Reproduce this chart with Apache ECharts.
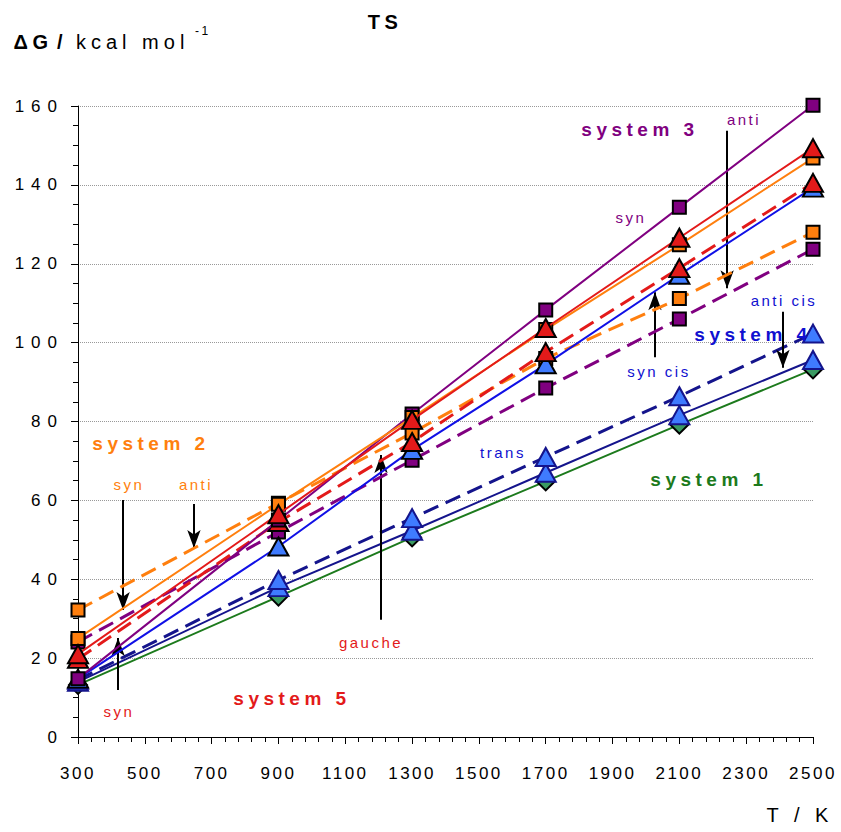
<!DOCTYPE html>
<html>
<head>
<meta charset="utf-8">
<script src="https://cdn.jsdelivr.net/npm/echarts@6/dist/echarts.min.js"></script>
<style>
html,body{margin:0;padding:0;background:#fff;}
#chart{width:841px;height:832px;}
#chart svg text{letter-spacing:2.5px;}
#chart svg text[text-anchor="end"]{letter-spacing:7px;}
#chart svg text[style*="20px"]{letter-spacing:5px;}
#chart svg text[style*="bold"]{letter-spacing:4.5px;}
</style>
</head>
<body>
<div id="chart"></div>
<script>
// Temperatures (K)
const temps = [300, 900, 1300, 1700, 2100, 2500];
// ΔG values (kcal/mol)
const sys1 = [13.2, 35.6, 50.6, 64.8, 79.2, 93.2];            // system 1
const sys4AntiCis = [14.0, 38.0, 52.3, 67.0, 81.6, 95.6];     // system 4 anti cis
const sys4Trans = [14.5, 39.8, 55.5, 71.0, 86.4, 102.3];      // system 4 trans
const sys4SynCis = [14.8, 48.3, 72.8, 94.5, 117.2, 139.3];    // system 4 syn cis
const sys3Anti = [24.1, 52.0, 70.2, 88.5, 106.0, 123.7];      // system 3 anti
const sys2Anti = [32.2, 59.3, 77.1, 96.0, 111.2, 128.0];      // system 2 anti
const sys5Gauche = [19.8, 54.5, 74.8, 97.6, 118.9, 140.5];    // system 5 gauche
const sys3Syn = [14.8, 55.0, 81.9, 108.3, 134.3, 160.2];      // system 3 syn
const sys2Syn = [25.0, 59.0, 81.0, 103.3, 124.8, 146.8];      // system 2 syn
const sys5Syn = [21.0, 56.5, 80.4, 103.7, 126.6, 149.3];      // system 5 syn

const xMajorTicks = [300, 500, 700, 900, 1100, 1300, 1500, 1700, 1900, 2100, 2300, 2500];
const xMinorTicks = [];
for (let t = 300; t <= 2500; t += 40) xMinorTicks.push(t);

// annotation arrows: [T, from value, to value]
const arrows = [
  [435, 60.1, 32.2],   // system 2 syn
  [647, 59.1, 47.9],   // system 2 anti
  [420, 11.9, 25.1],   // system 5 syn
  [1207, 29.7, 71.5],  // system 5 gauche
  [2027, 96.3, 112.8], // system 4 syn cis
  [2243, 153.7, 113.8],// system 3 anti
  [2410, 107.8, 93.6]  // system 4 anti cis
];

const C = {
  green: '#1c7a1c', greenFill: '#3a9a62',
  navy: '#14148c', lightBlue: '#3f7bff',
  blue: '#1010e6',
  purple: '#800080',
  orange: '#ff7f0e',
  red: '#e31a1a'
};

function pts(vals){ return temps.map((t,i)=>[t, vals[i]]); }

function ser(name, vals, color, dashed, symbol, size, fill, border, z){
  return {
    name: name, type: 'line', data: pts(vals),
    xAxisIndex: 0, yAxisIndex: 0,
    symbol: symbol, symbolSize: size, showAllSymbol: true, clip: false,
    lineStyle: { color: color, width: dashed ? 3 : 2, type: dashed ? [16, 8] : 'solid' },
    itemStyle: { color: fill, borderColor: border, borderWidth: 2, opacity: 1 },
    emphasis: { disabled: true },
    z: z, animation: false
  };
}

const TRI = [20, 18];
const series = [
  ser('system 1', sys1, C.green, false, 'diamond', 18, C.greenFill, '#000', 2),
  ser('anti cis', sys4AntiCis, C.navy, false, 'triangle', TRI, C.lightBlue, C.navy, 3),
  ser('trans', sys4Trans, C.navy, true, 'triangle', TRI, C.lightBlue, C.navy, 4),
  ser('system 3 anti', sys3Anti, C.purple, true, 'rect', 13, C.purple, '#000', 5),
  ser('system 2 anti', sys2Anti, C.orange, true, 'rect', 13, C.orange, '#000', 6),
  ser('syn cis', sys4SynCis, C.blue, false, 'triangle', TRI, C.lightBlue, '#000', 7),
  ser('gauche', sys5Gauche, C.red, true, 'triangle', TRI, C.red, '#000', 8),
  ser('system 3 syn', sys3Syn, C.purple, false, 'rect', 13, C.purple, '#000', 9),
  ser('system 2 syn', sys2Syn, C.orange, false, 'rect', 13, C.orange, '#000', 10),
  ser('system 5 syn', sys5Syn, C.red, false, 'triangle', TRI, C.red, '#000', 11)
];

series.push({
  type: 'line', data: [], xAxisIndex: 0, yAxisIndex: 0, silent: true, z: 12,
  markLine: {
    silent: true, animation: false,
    symbol: ['none', 'arrow'], symbolSize: [10, 18],
    label: { show: false },
    lineStyle: { color: '#000', width: 2, type: 'solid' },
    emphasis: { disabled: true },
    data: arrows.map(a => [{ coord: [a[0], a[1]] }, { coord: [a[0], a[2]] }])
  }
});

const FONT = '"Liberation Sans", Arial, sans-serif';
function txt(text, cx, cy, color, size, bold){
  return {
    type: 'text', x: cx, y: cy, z: 100,
    style: {
      text: text, fill: color, align: 'center', verticalAlign: 'middle',
      fontSize: size, fontWeight: bold ? 'bold' : 'normal', fontFamily: FONT
    }
  };
}

const graphics = [
  txt('TS', 385, 22, '#000', 20, true),
  txt('ΔG', 33, 42, '#000', 20, true),
  txt('/', 62, 42, '#000', 20, true),
  {
    type: 'text', x: 76, y: 42, z: 100,
    style: { text: 'kcal mol', fill: '#000', align: 'left', verticalAlign: 'middle', fontSize: 20, fontFamily: FONT }
  },
  {
    type: 'text', x: 195, y: 31, z: 100,
    style: { text: '-1', fill: '#000', align: 'left', verticalAlign: 'middle', fontSize: 12, fontFamily: FONT }
  },
  txt('T / K', 800, 815, '#000', 20, false),
  txt('system 3', 640, 129, C.purple, 19, true),
  txt('anti', 744, 119, C.purple, 15, false),
  txt('syn', 631, 217, C.purple, 15, false),
  txt('system 4', 753, 334, '#1010d0', 19, true),
  txt('anti cis', 784, 300, '#1010d0', 15, false),
  txt('syn cis', 659, 371, '#1010d0', 15, false),
  txt('trans', 503, 452, '#1010d0', 15, false),
  txt('system 1', 709, 479, C.green, 19, true),
  txt('system 2', 151, 443, C.orange, 19, true),
  txt('syn', 129, 484, C.orange, 15, false),
  txt('anti', 196, 484, C.orange, 15, false),
  txt('gauche', 371, 642, C.red, 15, false),
  txt('system 5', 292, 698, C.red, 19, true),
  txt('syn', 119, 711, C.red, 15, false)
];

const chart = echarts.init(document.getElementById('chart'), null, { renderer: 'svg' });
chart.setOption({
  animation: false,
  backgroundColor: '#fff',
  grid: { left: 78, right: 28, top: 106, bottom: 95, containLabel: false },
  xAxis: [{
    type: 'value', min: 300, max: 2500, gridIndex: 0,
    axisLine: { show: true, lineStyle: { color: '#000', width: 1 } },
    axisTick: { show: true, length: 7, customValues: xMajorTicks, lineStyle: { color: '#000' } },
    axisLabel: { customValues: xMajorTicks, formatter: v => String(v), margin: 28, color: '#000', fontSize: 17, fontFamily: FONT },
    splitLine: { show: false }
  }, {
    type: 'value', min: 300, max: 2500, gridIndex: 0, position: 'bottom',
    axisLine: { show: false },
    axisTick: { show: true, length: 5, customValues: xMinorTicks, lineStyle: { color: '#000' } },
    axisLabel: { show: false },
    splitLine: { show: false }
  }],
  yAxis: {
    type: 'value', min: 0, max: 160, interval: 20,
    axisLine: { show: true, lineStyle: { color: '#000', width: 1 } },
    axisTick: { show: true, length: 7, lineStyle: { color: '#000' } },
    minorTick: { show: true, splitNumber: 4, length: 5, lineStyle: { color: '#000' } },
    axisLabel: { formatter: v => String(v), margin: 14, color: '#000', fontSize: 17, fontFamily: FONT },
    splitLine: { show: true, lineStyle: { color: '#999', type: 'dotted', width: 1 } }
  },
  series: series,
  graphic: graphics
});
</script>
</body>
</html>
